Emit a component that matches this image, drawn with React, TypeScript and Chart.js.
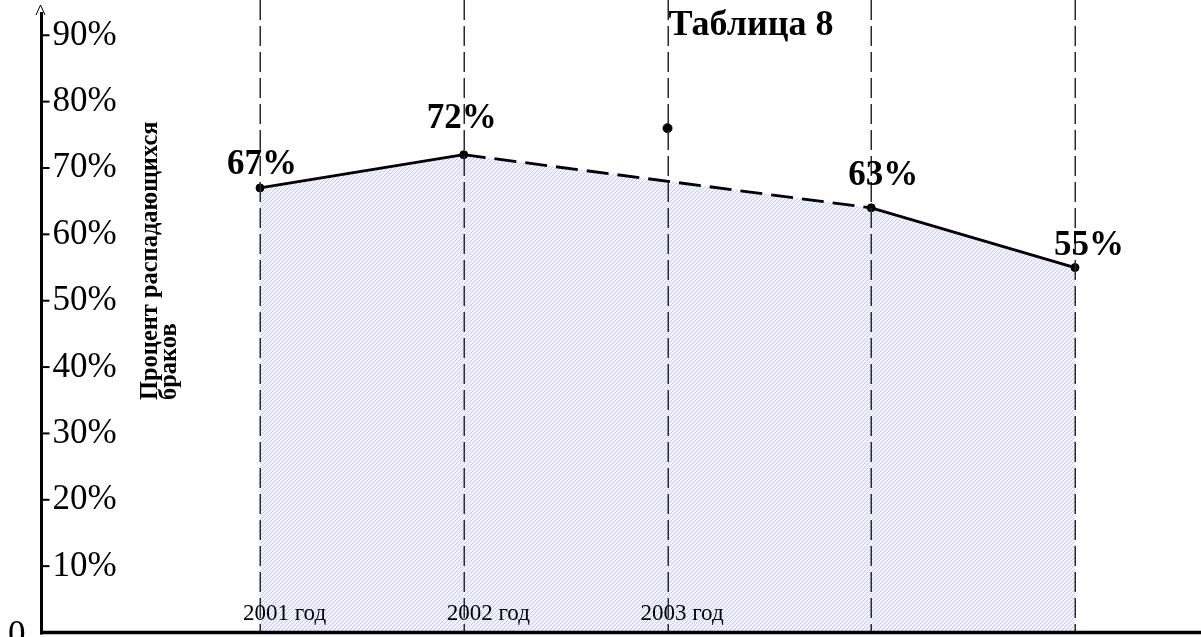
import React, { useEffect, useRef } from "react";
import { Chart, registerables } from "chart.js";

Chart.register(...registerables);

// ---- data ----
const GRID_YEARS = [2001, 2002, 2003, 2004, 2005];
const LINE_YEARS = [2001, 2002, 2004, 2005];
const LINE_VALUES = [67, 72, 64, 55];
const LINE_LABELS = ["67%", "72%", "63%", "55%"];
const EXTRA_YEARS = [2003];
const EXTRA_VALUES = [76];
const YEAR_LABELS = ["2001 год", "2002 год", "2003 год"];
const Y_TICKS = [10, 20, 30, 40, 50, 60, 70, 80, 90];
const Y_TICK_LABELS = ["10%", "20%", "30%", "40%", "50%", "60%", "70%", "80%", "90%"];
const ZERO_LABEL = "0";
const TITLE = "Таблица 8";
const Y_TITLE = ["Процент распадающихся", "браков"];

// ---- styles / offsets (not data) ----
const LABEL_OFFSETS = [
  [2, -14],
  [-2, -27],
  [12, -23],
  [14, -13],
];
const YEAR_LABEL_OFFSETS = [-17, -17, -27];
const SERIF = '"Liberation Serif", "Times New Roman", serif';

function makeHatch(): CanvasPattern | string {
  const c = document.createElement("canvas");
  const s = 4;
  c.width = s;
  c.height = s;
  const g = c.getContext("2d");
  if (!g) return "rgba(220,220,245,0.5)";
  g.fillStyle = "#f3f3fd";
  g.fillRect(0, 0, s, s);
  g.strokeStyle = "#c6c6f2";
  g.lineWidth = 1;
  g.beginPath();
  g.moveTo(-1, s + 1);
  g.lineTo(s + 1, -1);
  g.moveTo(-1, 1);
  g.lineTo(1, -1);
  g.moveTo(s - 1, s + 1);
  g.lineTo(s + 1, s - 1);
  g.stroke();
  const p = g.createPattern(c, "repeat");
  return p || "rgba(220,220,245,0.5)";
}

const decorPlugin = {
  id: "decor",
  afterDatasetsDraw(chart: any) {
    const ctx: CanvasRenderingContext2D = chart.ctx;
    const xs = chart.scales.x;
    const ys = chart.scales.y;
    const y0 = ys.getPixelForValue(0);

    // vertical dashed lines
    ctx.save();
    ctx.strokeStyle = "#2a2a2a";
    ctx.lineWidth = 1.5;
    ctx.setLineDash([20, 6]);
    GRID_YEARS.forEach((yr) => {
      const px = Math.round(xs.getPixelForValue(yr)) + 0.25;
      ctx.beginPath();
      ctx.moveTo(px, 0);
      ctx.lineTo(px, y0);
      ctx.stroke();
    });
    ctx.restore();

    // axes
    ctx.save();
    ctx.strokeStyle = "#000";
    ctx.lineWidth = 3;
    const ax = 41.5;
    ctx.beginPath();
    ctx.moveTo(ax, 12);
    ctx.lineTo(ax, y0 + 2);
    ctx.stroke();
    // arrow
    ctx.lineWidth = 1;
    ctx.beginPath();
    ctx.moveTo(36, 15);
    ctx.lineTo(40.5, 5);
    ctx.lineTo(45, 15);
    ctx.stroke();
    // x axis
    ctx.lineWidth = 3.5;
    ctx.beginPath();
    ctx.moveTo(40, y0);
    ctx.lineTo(chart.width, y0);
    ctx.stroke();
    // y ticks
    ctx.lineWidth = 2;
    Y_TICKS.forEach((v) => {
      const py = ys.getPixelForValue(v);
      ctx.beginPath();
      ctx.moveTo(ax, py);
      ctx.lineTo(ax + 8, py);
      ctx.stroke();
    });
    // y tick labels
    ctx.fillStyle = "#000";
    ctx.font = `35px ${SERIF}`;
    ctx.textAlign = "left";
    ctx.textBaseline = "alphabetic";
    Y_TICKS.forEach((v, i) => {
      const py = ys.getPixelForValue(v);
      ctx.fillText(Y_TICK_LABELS[i], ax + 11, py + 9.5);
    });
    ctx.fillText(ZERO_LABEL, 8, y0 + 12.5);

    // year labels
    ctx.font = `23px ${SERIF}`;
    YEAR_LABELS.forEach((t, i) => {
      const px = xs.getPixelForValue(GRID_YEARS[i]);
      ctx.fillText(t, px + YEAR_LABEL_OFFSETS[i], y0 - 12.5);
    });

    // value labels
    ctx.font = `bold 35px ${SERIF}`;
    ctx.textAlign = "center";
    LINE_LABELS.forEach((t, i) => {
      const px = xs.getPixelForValue(LINE_YEARS[i]);
      const py = ys.getPixelForValue(LINE_VALUES[i]);
      ctx.fillText(t, px + LABEL_OFFSETS[i][0], py + LABEL_OFFSETS[i][1]);
    });

    // title
    ctx.textAlign = "left";
    ctx.font = `bold 36px ${SERIF}`;
    ctx.fillText(TITLE, xs.getPixelForValue(GRID_YEARS[2]) + 1, 35);

    // y axis title
    ctx.save();
    ctx.translate(157, 400);
    ctx.rotate(-Math.PI / 2);
    ctx.scale(0.94, 1);
    ctx.font = `bold 26px ${SERIF}`;
    ctx.fillText(Y_TITLE[0], 0, 0);
    ctx.fillText(Y_TITLE[1], 0, 19);
    ctx.restore();

    ctx.restore();
  },
};

export default function App() {
  const ref = useRef<HTMLCanvasElement | null>(null);

  useEffect(() => {
    document.body.style.margin = "0";
    const canvas = ref.current;
    if (!canvas) return;
    const hatch = makeHatch();
    const chart = new Chart(canvas, {
      type: "line",
      data: {
        datasets: [
          {
            data: LINE_YEARS.map((x, i) => ({ x, y: LINE_VALUES[i] })),
            borderColor: "#000",
            borderWidth: 2.8,
            fill: "origin",
            backgroundColor: hatch as any,
            pointRadius: 4,
            pointBackgroundColor: "#000",
            pointBorderColor: "#000",
            pointBorderWidth: 1,
            tension: 0,
            clip: false as any,
            segment: {
              borderDash: (ctx: any) => (ctx.p0DataIndex === 1 ? [22, 9] : undefined),
            },
          },
          {
            data: EXTRA_YEARS.map((x, i) => ({ x, y: EXTRA_VALUES[i] })),
            showLine: false,
            pointRadius: 4.5,
            pointBackgroundColor: "#000",
            pointBorderColor: "#000",
            fill: false,
            clip: false as any,
          },
        ],
      },
      options: {
        responsive: false,
        animation: false,
        devicePixelRatio: 1,
        layout: { autoPadding: false, padding: { left: 40, right: 0, top: 2.1, bottom: 4.5 } },
        plugins: {
          legend: { display: false },
          tooltip: { enabled: false },
          title: { display: false },
        },
        scales: {
          x: { type: "linear", display: false, min: 1999.9202, max: 2005.6184 },
          y: { display: false, min: 0, max: 95 },
        },
      },
      plugins: [decorPlugin],
    });
    return () => chart.destroy();
  }, []);

  return (
    <div style={{ width: 1201, height: 637, background: "#fff" }}>
      <canvas ref={ref} width={1201} height={637} style={{ display: "block" }} />
    </div>
  );
}
